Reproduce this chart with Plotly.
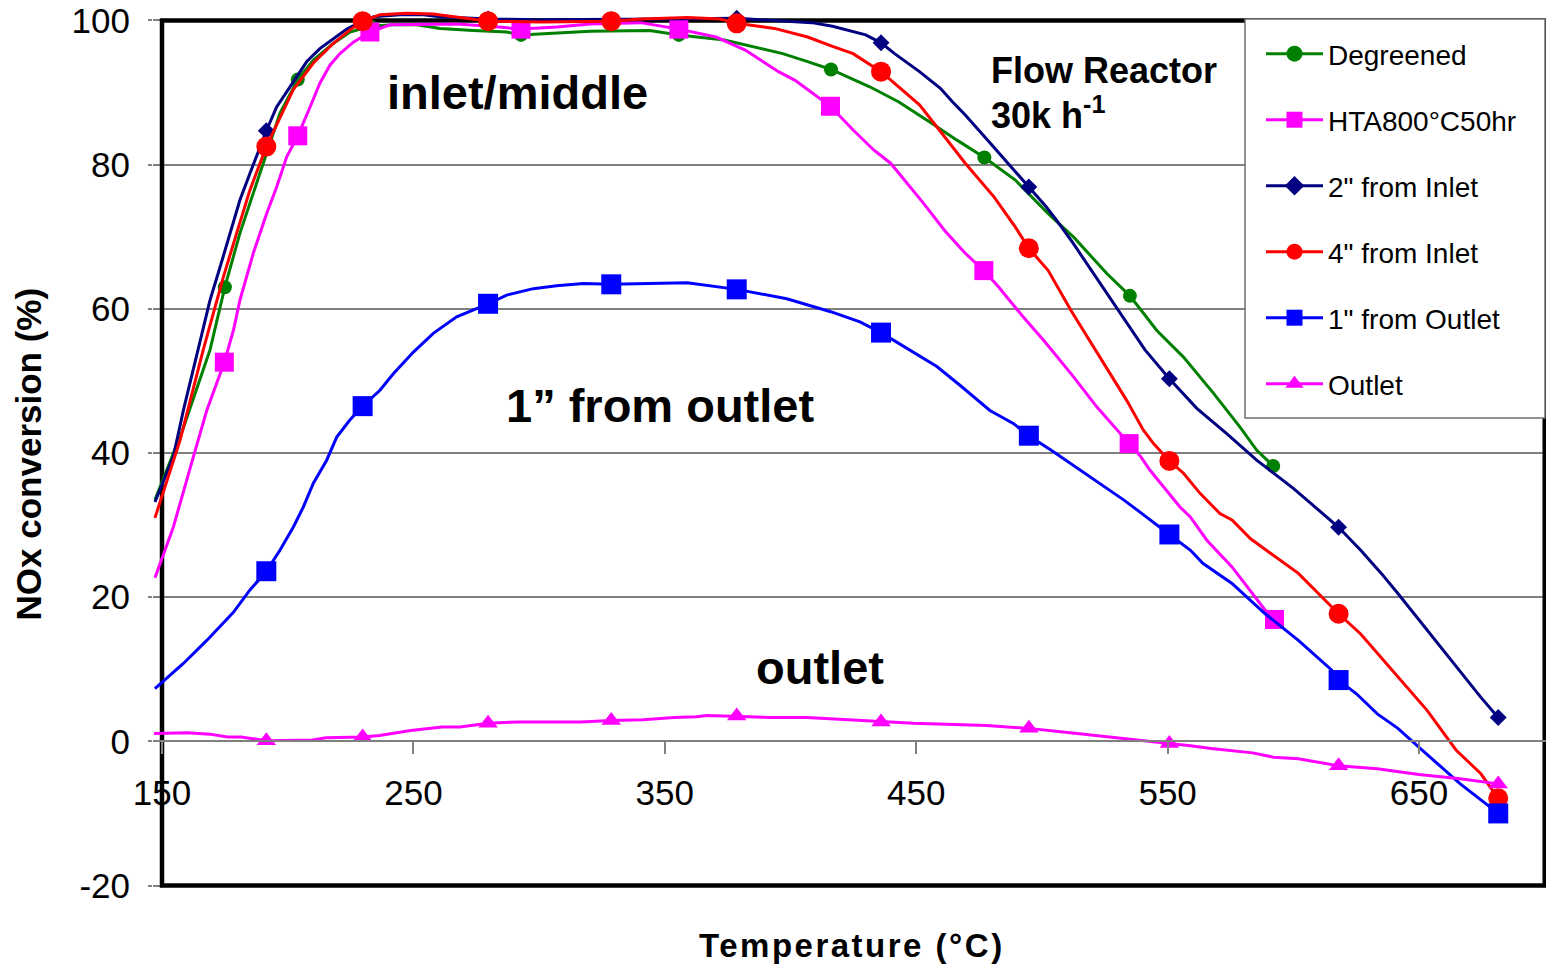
import plotly.graph_objects as go

# ---------------- data ----------------
# Degreened
T_deg = [147.2, 158.0, 169.1, 175.0, 181.0, 186.3, 191.6, 196.9, 204.0, 210.2, 218.1, 224.8, 232.7, 242.0,
         251.3, 260.6, 273.8, 287.1, 292.8, 307.0, 320.2, 344.0, 355.6, 373.7, 396.9, 406.8, 416.1, 431.5,
         443.1, 456.3, 466.2, 477.1, 489.3, 502.5, 513.0, 525.8, 535.0, 545.7, 556.3, 568.2, 578.8, 585.4, 592.0]
Y_deg = [33.5, 43.0, 54.3, 63.0, 70.5, 76.0, 81.6, 87.1, 91.8, 94.5, 96.8, 98.4, 99.2, 99.4,
         99.4, 98.9, 98.6, 98.4, 98.0, 98.3, 98.5, 98.6, 98.0, 97.3, 95.4, 94.3, 93.2, 90.8,
         88.7, 85.7, 83.4, 81.0, 77.9, 73.2, 69.8, 64.9, 61.8, 57.0, 53.3, 48.3, 43.6, 40.4, 38.2]
MT_deg = [175.0, 204.0, 232.7, 292.8, 355.6, 416.1, 477.1, 535.0, 592.0]
MY_deg = [63.0, 91.8, 99.2, 98.0, 98.0, 93.2, 81.0, 61.8, 38.2]

# HTA800°C50hr
T_hta = [147.2, 154.5, 162.5, 167.8, 174.8, 178.4, 181.0, 186.3, 191.6, 195.6, 199.6, 204.0, 208.9, 212.8,
         216.8, 220.8, 226.1, 232.7, 240.7, 253.9, 267.2, 280.5, 292.8, 307.0, 320.2, 340.4, 355.6, 370.4,
         382.0, 395.2, 401.8, 415.9, 424.9, 433.2, 439.8, 443.1, 453.0, 461.2, 469.5, 476.9, 482.6, 492.5,
         501.0, 512.5, 521.8, 534.7, 539.3, 543.0, 554.9, 559.1, 565.6, 575.6, 588.8, 592.5]
Y_hta = [22.7, 29.7, 39.5, 45.9, 52.6, 57.0, 61.2, 67.7, 73.2, 76.9, 81.1, 84.0, 88.0, 91.3,
         93.8, 95.4, 97.0, 98.4, 99.4, 99.5, 99.5, 99.2, 98.8, 99.1, 99.5, 99.7, 98.8, 97.7,
         95.9, 92.9, 91.7, 88.1, 84.8, 82.0, 80.2, 78.8, 74.6, 70.9, 67.7, 65.3, 63.1, 58.9,
         55.5, 50.6, 46.4, 41.3, 39.5, 37.6, 32.5, 31.1, 27.9, 24.2, 18.2, 16.9]
MT_hta = [174.8, 204.0, 232.7, 292.8, 355.6, 415.9, 476.9, 534.7, 592.5]
MY_hta = [52.6, 84.0, 98.4, 98.8, 98.8, 88.1, 65.3, 41.3, 16.9]

# 2" from Inlet
T_in2 = [147.2, 154.5, 158.5, 164.4, 169.1, 173.1, 177.0, 181.0, 185.0, 191.5, 195.6, 203.6, 207.6, 212.8,
         218.1, 223.5, 229.8, 234.0, 244.7, 253.9, 260.6, 279.7, 300.0, 328.7, 350.0, 378.6, 393.6, 408.4,
         416.7, 424.9, 429.9, 436.0, 441.4, 451.3, 459.6, 464.5, 469.5, 479.4, 489.3, 494.8, 501.6, 505.8,
         512.4, 522.3, 530.5, 541.0, 550.7, 561.6, 573.5, 585.4, 600.0, 618.0, 626.8, 635.0, 641.6, 656.5,
         664.7, 674.6, 681.5]
Y_in2 = [33.2, 39.5, 45.9, 54.3, 61.2, 65.8, 70.5, 75.1, 78.8, 84.7, 88.0, 92.2, 94.3, 96.1,
         97.5, 98.8, 99.9, 100.5, 100.8, 100.8, 100.5, 100.2, 100.1, 100.1, 100.2, 100.3, 100.0, 99.7,
         99.2, 98.4, 98.0, 96.9, 95.4, 92.9, 90.6, 88.7, 86.9, 83.0, 79.0, 76.9, 74.2, 72.3,
         69.1, 64.0, 59.8, 54.3, 50.3, 46.2, 42.7, 39.0, 35.1, 29.7, 26.5, 23.3, 20.5, 14.0,
         10.3, 6.1, 3.3]
MT_in2 = [191.5, 229.8, 279.7, 328.7, 378.6, 436.0, 494.8, 550.7, 618.0, 681.5]
MY_in2 = [84.7, 99.9, 100.2, 100.1, 100.3, 96.9, 76.9, 50.3, 29.7, 3.3]

# 4" from Inlet
T_in4 = [147.2, 157.2, 166.4, 174.4, 179.7, 185.0, 191.5, 196.9, 202.2, 210.2, 218.1, 224.8, 229.8, 236.7,
         247.3, 257.9, 267.2, 273.8, 279.7, 300.4, 328.7, 340.7, 358.9, 372.1, 378.6, 393.6, 406.8, 416.7,
         424.9, 436.0, 443.1, 451.3, 461.2, 469.5, 481.0, 489.3, 494.8, 502.5, 511.5, 522.0, 533.7, 540.3,
         544.4, 550.7, 556.3, 562.9, 570.8, 575.6, 583.0, 602.0, 618.0, 626.8, 641.6, 653.2, 664.7, 674.6,
         681.5]
Y_in4 = [31.0, 41.8, 54.3, 64.4, 70.5, 76.5, 82.5, 86.6, 90.4, 94.1, 96.8, 98.7, 99.9, 100.8,
         101.0, 100.9, 100.5, 100.2, 99.9, 99.8, 99.9, 100.2, 100.4, 100.2, 99.6, 98.9, 97.7, 96.4,
         95.4, 92.9, 90.8, 88.3, 83.9, 80.2, 75.5, 71.4, 68.4, 65.3, 59.8, 53.8, 47.3, 43.2,
         41.3, 38.9, 37.2, 34.4, 31.6, 30.7, 28.1, 23.3, 17.7, 14.9, 8.9, 4.3, -1.2, -4.5,
         -7.9]
MT_in4 = [191.5, 229.8, 279.7, 328.7, 378.6, 436.0, 494.8, 550.7, 618.0, 681.5]
MY_in4 = [82.5, 99.9, 99.9, 99.9, 99.6, 92.9, 68.4, 38.9, 17.7, -7.9]

# 1" from Outlet
T_out1 = [147.2, 158.5, 167.8, 178.4, 185.0, 191.5, 196.9, 202.2, 206.2, 210.2, 215.5, 219.5, 224.8, 229.8,
          236.7, 242.0, 250.0, 257.9, 267.2, 279.7, 287.1, 297.7, 307.0, 317.6, 328.7, 358.9, 378.6, 398.5,
          416.0, 427.6, 436.0, 447.5, 458.2, 467.4, 479.3, 488.6, 494.8, 504.0, 518.5, 532.5, 539.0, 543.0,
          550.7, 559.1, 564.0, 575.6, 588.8, 602.0, 615.2, 618.0, 625.1, 633.4, 641.6, 649.9, 666.4, 681.5]
Y_out1 = [7.3, 10.8, 14.0, 17.9, 21.0, 23.6, 26.5, 29.7, 32.5, 35.8, 39.0, 42.2, 44.6, 46.5,
          48.7, 51.0, 54.0, 56.6, 58.9, 60.7, 61.9, 62.8, 63.2, 63.5, 63.4, 63.6, 62.7, 61.4,
          59.6, 58.2, 56.7, 54.3, 52.0, 49.4, 45.9, 44.1, 42.4, 40.3, 36.8, 33.5, 31.8, 30.7,
          28.7, 26.5, 24.7, 21.9, 17.7, 14.0, 9.9, 8.5, 6.6, 3.8, 1.8, -0.8, -5.9, -10.0]
MT_out1 = [191.5, 229.8, 279.7, 328.7, 378.6, 436.0, 494.8, 550.7, 618.0, 681.5]
MY_out1 = [23.6, 46.5, 60.7, 63.4, 62.7, 56.7, 42.4, 28.7, 8.5, -10.0]

# Outlet
T_out = [146.8, 160.1, 169.0, 176.1, 181.5, 191.5, 209.9, 215.2, 229.8, 236.5, 248.9, 261.4, 268.5, 279.7,
         291.6, 316.4, 328.7, 341.3, 353.7, 362.6, 366.7, 378.6, 391.8, 406.4, 436.0, 448.8, 478.0, 494.8,
         514.0, 539.0, 550.7, 559.1, 567.3, 583.8, 592.1, 602.0, 618.0, 633.4, 649.9, 666.4, 681.5]
Y_out = [1.1, 1.2, 1.0, 0.6, 0.6, 0.1, 0.2, 0.5, 0.6, 0.8, 1.5, 2.0, 2.0, 2.5,
         2.7, 2.7, 2.9, 3.0, 3.3, 3.4, 3.6, 3.5, 3.3, 3.3, 2.7, 2.5, 2.2, 1.8,
         1.1, 0.1, -0.3, -0.6, -1.0, -1.6, -2.2, -2.4, -3.4, -3.8, -4.6, -5.2, -5.9]
MT_out = [191.5, 229.8, 279.7, 328.7, 378.6, 436.0, 494.8, 550.7, 618.0, 681.5]
MY_out = [0.1, 0.6, 2.5, 2.9, 3.5, 2.7, 1.8, -0.3, -3.4, -5.9]

series_names = ['Degreened', 'HTA800°C50hr', '2" from Inlet', '4" from Inlet', '1" from Outlet', 'Outlet']
x_tick_vals = [150, 250, 350, 450, 550, 650]
x_tick_text = ['150', '250', '350', '450', '550', '650']
y_tick_vals = [-20, 0, 20, 40, 60, 80, 100]
y_tick_text = ['-20', '0', '20', '40', '60', '80', '100']

# ---------------- styling ----------------
FONT = 'Liberation Sans, Arial, sans-serif'
W, H = 1548, 967
ML, MR, MT, MB = 153, 2, 8, 76
PW, PH = W - ML - MR, H - MT - MB
XMIN, XMAX = 146.42, 700.5
YMIN, YMAX = -20.76, 101.73


def px_x(px):
    return (px - ML) / PW


def px_y(py):
    return ((H - MB) - py) / PH


styles = [
    dict(color='#008000', symbol='circle', size=14, lsize=16),
    dict(color='#FF00FF', symbol='square', size=19, lsize=16),
    dict(color='#000080', symbol='diamond', size=13, lsize=15),
    dict(color='#FF0000', symbol='circle', size=20, lsize=16),
    dict(color='#0000FF', symbol='square', size=20, lsize=16),
    dict(color='#FF00FF', symbol='triangle-up', size=17, lsize=16),
]
lines = [(T_deg, Y_deg, MT_deg, MY_deg), (T_hta, Y_hta, MT_hta, MY_hta), (T_in2, Y_in2, MT_in2, MY_in2),
         (T_in4, Y_in4, MT_in4, MY_in4), (T_out1, Y_out1, MT_out1, MY_out1), (T_out, Y_out, MT_out, MY_out)]

fig = go.Figure()
for i, (name, st, (tx, ty, mx, my)) in enumerate(zip(series_names, styles, lines)):
    fig.add_trace(go.Scatter(x=tx, y=ty, mode='lines', line=dict(color=st['color'], width=3),
                             showlegend=False, legendgroup=f'g{i}', hoverinfo='skip'))
    fig.add_trace(go.Scatter(x=mx, y=my, mode='markers',
                             marker=dict(color=st['color'], symbol=st['symbol'], size=st['size'],
                                         line=dict(width=0)),
                             showlegend=False, legendgroup=f'g{i}', name=name))
    fig.add_trace(go.Scatter(x=[None], y=[None], mode='lines+markers', name=name, legendgroup=f'g{i}',
                             line=dict(color=st['color'], width=3),
                             marker=dict(color=st['color'], symbol=st['symbol'], size=st['lsize'],
                                         line=dict(width=0))))

# plot frame
fig.add_shape(type='rect', xref='x', yref='y', x0=150, x1=700, y0=-20, y1=100,
              line=dict(color='black', width=4.5), layer='between')
# legend box (drawn over the frame, like the reference)
fig.add_shape(type='rect', xref='paper', yref='paper', x0=px_x(1245), x1=px_x(1545), y0=px_y(418), y1=px_y(19),
              line=dict(color='#707070', width=1.5), fillcolor='white', layer='above')

xpos = (0 - YMIN) / (YMAX - YMIN)

ann = [
    dict(text='<b>inlet/middle</b>', x=291.6, y=90.0, size=47),
    dict(text='<b>1” from outlet</b>', x=348.1, y=46.6, size=47),
    dict(text='<b>outlet</b>', x=411.7, y=10.3, size=47),
]
for a in ann:
    fig.add_annotation(text=a['text'], x=a['x'], y=a['y'], xref='x', yref='y', showarrow=False,
                       xanchor='center', yanchor='middle', font=dict(family=FONT, size=a['size'], color='black'))
fig.add_annotation(text='<b>Flow Reactor</b>', x=478.9, y=93.1, xref='x', yref='y', showarrow=False,
                   xanchor='left', yanchor='middle', font=dict(family=FONT, size=36, color='black'))
fig.add_annotation(text='<b>30k h<sup>-1</sup></b>', x=478.9, y=87.1, xref='x', yref='y', showarrow=False,
                   xanchor='left', yanchor='middle', font=dict(family=FONT, size=36, color='black'))
fig.add_annotation(text='<b>NOx conversion (%)</b>', x=px_x(28), y=39.8, xref='paper', yref='y',
                   showarrow=False, textangle=-90, xanchor='center', yanchor='middle',
                   font=dict(family=FONT, size=35, color='black'))
fig.add_annotation(text='<span style="letter-spacing:2.5px"><b>Temperature (°C)</b></span>',
                   x=px_x(852), y=px_y(945), xref='paper', yref='paper', showarrow=False,
                   xanchor='center', yanchor='middle', font=dict(family=FONT, size=33, color='black'))

fig.update_layout(
    width=W, height=H, margin=dict(l=ML, r=MR, t=MT, b=MB, pad=0),
    paper_bgcolor='white', plot_bgcolor='white',
    font=dict(family=FONT, color='black'),
    showlegend=True,
    legend=dict(x=px_x(1261), y=px_y(29), xanchor='left', yanchor='top',
                bgcolor='rgba(0,0,0,0)', borderwidth=0,
                font=dict(family=FONT, size=28, color='black'), itemwidth=57,
                tracegroupgap=26.6, traceorder='grouped'),
    xaxis=dict(range=[XMIN, XMAX], anchor='free', position=xpos, showline=True, linecolor='#808080',
               linewidth=1.5, ticks='outside', ticklen=12, tickwidth=1.5, tickcolor='#808080',
               tickvals=x_tick_vals, ticktext=x_tick_text, tickfont=dict(family=FONT, size=35, color='black'),
               showgrid=False, zeroline=False, ticklabelstandoff=9),
    yaxis=dict(range=[YMIN, YMAX], tickvals=y_tick_vals, ticktext=y_tick_text, showgrid=True,
               gridcolor='#808080', gridwidth=1.5,
               ticks='outside', ticklen=4, tickwidth=1.5, tickcolor='#808080', showline=False, zeroline=False,
               tickfont=dict(family=FONT, size=35, color='black'), ticklabelstandoff=11),
)

fig.write_html('out.html', config={'displayModeBar': False},
               post_script="document.body.style.margin='0';document.body.style.overflow='hidden';")
